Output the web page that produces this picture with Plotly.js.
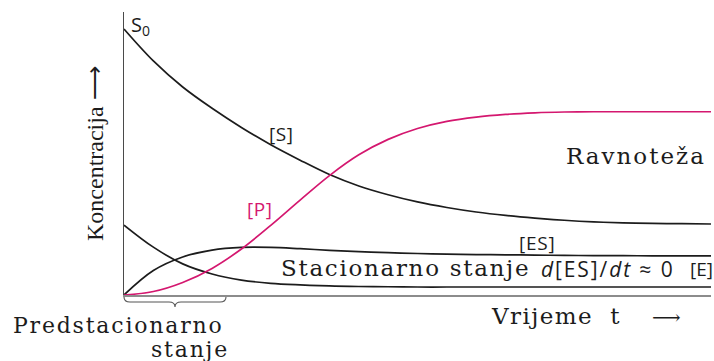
<!DOCTYPE html>
<html>
<head>
<meta charset="utf-8">
<script src="https://cdn.plot.ly/plotly-3.0.1.min.js"></script>
<style>
  html, body { margin: 0; padding: 0; background: #fff; }
  #chart { width: 714px; height: 361px; }
</style>
</head>
<body>
<div id="chart"></div>
<script>
// time axis (arbitrary units)
const T = [0, 0.5, 1, 1.5, 2, 2.5, 3, 3.5, 4, 4.5, 5, 5.5, 6, 6.5, 7, 7.5, 8, 8.5, 9, 9.5, 10];

// concentrations, S0 = 1
const S  = [1.000, 0.880, 0.782, 0.702, 0.630, 0.565, 0.507, 0.453, 0.410, 0.377, 0.350,
            0.329, 0.312, 0.299, 0.289, 0.281, 0.275, 0.271, 0.269, 0.268, 0.267];
const P  = [0.000, 0.013, 0.047, 0.100, 0.173, 0.262, 0.357, 0.449, 0.527, 0.585, 0.626,
            0.653, 0.669, 0.679, 0.685, 0.688, 0.689, 0.689, 0.689, 0.689, 0.689];
const ES = [0.000, 0.092, 0.143, 0.169, 0.179, 0.179, 0.174, 0.168, 0.163, 0.159, 0.156,
            0.154, 0.152, 0.151, 0.150, 0.149, 0.148, 0.148, 0.147, 0.147, 0.147];
const E  = [0.263, 0.180, 0.117, 0.079, 0.056, 0.044, 0.038, 0.034, 0.032, 0.031, 0.030,
            0.030, 0.030, 0.030, 0.030, 0.030, 0.030, 0.030, 0.030, 0.030, 0.030];

const BLACK = '#1c1c1c';
const MAGENTA = '#d4176f';
const SERIF = '"DejaVu Serif", serif';
const SANS = '"Open Sans", sans-serif';

// plot area in page pixels
const W = 714, H = 361;
const L = 124, R = 3, TOP = 12, B = 66;
const PW = W - L - R, PH = H - TOP - B;

// page pixel -> paper fraction
function px(x) { return (x - L) / PW; }
function py(y) { return (H - B - y) / PH; }

function curve(y, color) {
  return {
    x: T, y: y, mode: 'lines', hoverinfo: 'skip',
    line: { color: color, width: 1.7, shape: 'spline', smoothing: 1 }
  };
}

// reference lettering is wide, so add a little tracking
function wide(text, sp) {
  return '<span style="letter-spacing:' + sp + 'px">' + text + '</span>';
}

function label(text, x, y, opts) {
  return Object.assign({
    text: text, xref: 'paper', yref: 'paper', x: px(x), y: py(y),
    xanchor: 'center', yanchor: 'middle', showarrow: false,
    font: { family: SANS, size: 19, color: BLACK }
  }, opts || {});
}

const traces = [curve(S, BLACK), curve(ES, BLACK), curve(E, BLACK), curve(P, MAGENTA)];

const annotations = [
  label('S<sub>0</sub>', 129, 25, { xanchor: 'left', font: { family: SANS, size: 20, color: BLACK } }),
  label(wide('[S]', 0.6), 281, 134),
  label(wide('[P]', 0.6), 260, 209, { font: { family: SANS, size: 19, color: MAGENTA } }),
  label(wide('Ravnoteža', 2), 636, 156, { font: { family: SERIF, size: 23, color: BLACK } }),
  label(wide('[ES]', 0.8), 537, 243),
  label(wide('Stacionarno stanje', 1.7), 279, 268, { xanchor: 'left', font: { family: SERIF, size: 23, color: BLACK } }),
  label(wide('<i>d</i>[ES]/<i>dt</i> ≈ 0', 1.9), 539, 269, { xanchor: 'left', font: { family: SANS, size: 21, color: BLACK } }),
  label('[E]', 688, 269, { xanchor: 'left', font: { family: SANS, size: 19, color: BLACK } }),
  label(wide('Predstacionarno', 1.8), 11, 325, { xanchor: 'left', font: { family: SERIF, size: 22, color: BLACK } }),
  label(wide('stanje', 1.8), 231, 349, { xanchor: 'right', font: { family: SERIF, size: 22, color: BLACK } }),
  label(wide('Vrijeme  t', 1.4), 489, 316, { xanchor: 'left', font: { family: SERIF, size: 23, color: BLACK } }),
  label('⟶', 666, 317, { font: { family: SERIF, size: 20, color: BLACK } }),
  label('Koncentracija ⟶', 95, 154, { textangle: -90, font: { family: '"Liberation Serif", serif', size: 24, color: BLACK } })
];

// curly brace under the pre-steady-state interval
const brace = 'M ' + px(124) + ',' + py(297) +
  ' Q ' + px(124) + ',' + py(302) + ' ' + px(130) + ',' + py(302) +
  ' L ' + px(169) + ',' + py(302) +
  ' Q ' + px(175) + ',' + py(302) + ' ' + px(175) + ',' + py(307) +
  ' Q ' + px(175) + ',' + py(302) + ' ' + px(181) + ',' + py(302) +
  ' L ' + px(220) + ',' + py(302) +
  ' Q ' + px(226) + ',' + py(302) + ' ' + px(226) + ',' + py(297);

const layout = {
  width: W, height: H,
  margin: { l: L, r: R, t: TOP, b: B, pad: 0 },
  paper_bgcolor: '#ffffff', plot_bgcolor: '#ffffff',
  showlegend: false,
  xaxis: {
    range: [0, 10], showgrid: false, zeroline: false, showticklabels: false, ticks: '',
    showline: true, linecolor: '#8c8c8c', linewidth: 2
  },
  yaxis: {
    range: [0, 1.064], showgrid: false, zeroline: false, showticklabels: false, ticks: '',
    showline: true, linecolor: '#4a4a4a', linewidth: 1.5
  },
  annotations: annotations,
  shapes: [{
    type: 'path', xref: 'paper', yref: 'paper', path: brace,
    line: { color: '#555555', width: 1.1 }
  }]
};

Plotly.newPlot('chart', traces, layout, { displayModeBar: false, staticPlot: true });
</script>
</body>
</html>
